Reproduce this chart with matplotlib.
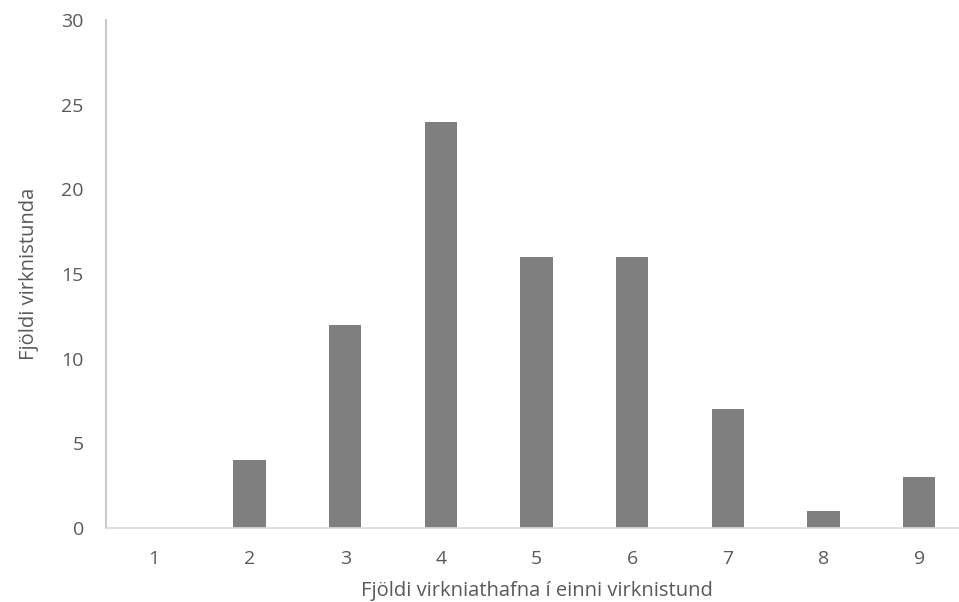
import matplotlib
matplotlib.use("Agg")
import matplotlib.pyplot as plt

categories = ["1", "2", "3", "4", "5", "6", "7", "8", "9"]
counts = [0, 4, 12, 24, 16, 16, 7, 1, 3]

plt.rcParams['font.family'] = ['Open Sans', 'DejaVu Sans']

fig = plt.figure(figsize=(9.59, 6.02), dpi=100)
ax = fig.add_axes([106 / 959, 1 - 528 / 602, 861 / 959, 508 / 602])

x = list(range(1, len(categories) + 1))
ax.bar(x, counts, width=0.34, color="#7f7f7f", zorder=2)

ax.set_xlim(0.5, 9.5)
ax.set_ylim(0, 30)
ax.set_xticks(x)
ax.set_xticklabels(categories)
ax.set_yticks([0, 5, 10, 15, 20, 25, 30])

for s in ["top", "right"]:
    ax.spines[s].set_visible(False)
ax.spines["left"].set_color("#bfbfbf")
ax.spines["bottom"].set_color("#d9d9d9")
ax.spines["left"].set_linewidth(1.2)
ax.spines["bottom"].set_linewidth(1.2)

ax.tick_params(axis="both", length=0, labelsize=14, colors="#595959")
ax.tick_params(axis="x", pad=16)
ax.tick_params(axis="y", pad=16)

ax.set_xlabel("Fjöldi virkniathafna í einni virknistund", fontsize=14.5, color="#595959", labelpad=9)
ax.set_ylabel("Fjöldi virknistunda", fontsize=14.5, color="#595959", labelpad=16)

fig.savefig("out.png", dpi=100)
